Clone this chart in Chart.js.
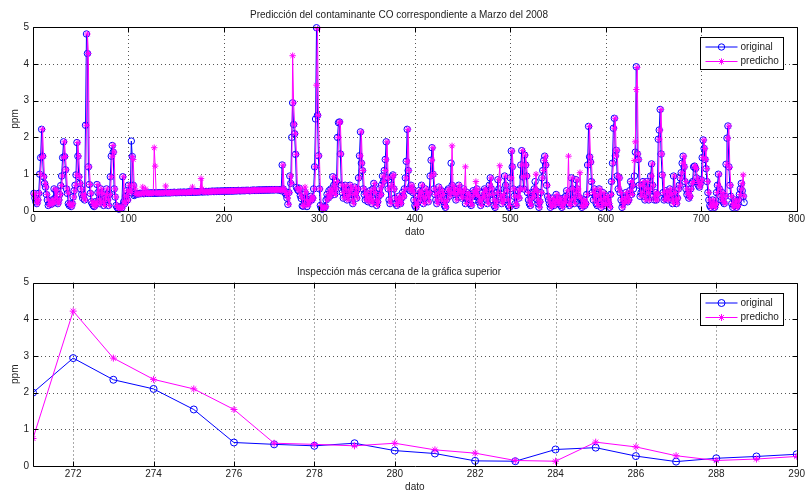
<!DOCTYPE html>
<html>
<head>
<meta charset="utf-8">
<title>Predicción del contaminante CO - Marzo 2008</title>
<script src="https://cdn.jsdelivr.net/npm/chart.js"></script>
<style>
  body { margin: 0; background: #fff; overflow: hidden; }
  #fig { position: relative; width: 807px; height: 493px; }
  canvas { position: absolute; left: 0; }
  #cTop { top: 0; }
  #cZoom { top: 245px; }
</style>
</head>
<body>
<div id="fig">
  <canvas id="cTop" width="807" height="245"></canvas>
  <canvas id="cZoom" width="807" height="248"></canvas>
</div>
<script>
// CO en ppm, dato 1..745 (marzo 2008)
const original = [
  0.48,0.35,0.25,0.2,0.3,0.48,1.0,1.45,2.22,1.49, 0.93,0.75,0.65,0.45,0.3,0.15,0.2,0.25,0.18,0.3,
  0.22,0.6,0.35,0.55,0.25,0.2,0.3,0.45,0.69,0.95, 1.45,1.88,1.48,1.12,0.6,0.48,0.2,0.15,0.18,0.12,
  0.2,0.38,0.55,0.7,0.98,1.86,1.49,0.93,0.75,0.6, 0.45,0.35,0.43,0.3,2.33,4.81,4.28,1.2,0.72,0.48,
  0.25,0.2,0.15,0.12,0.25,0.18,0.72,0.5,0.3,0.2, 0.6,0.48,0.25,0.15,0.35,0.45,0.6,0.3,0.15,0.45,
  0.93,1.49,1.78,1.6,0.6,0.38,0.15,0.1,0.08,0.05, 0.1,0.12,0.08,0.93,0.25,0.2,0.4,0.55,0.3,0.7,
  0.55,0.5,1.9,1.48,0.7,0.42,0.45,0.47,0.48,0.46, 0.47,0.48,0.47,0.48,0.48,0.47,0.48,0.48,0.49,0.48,
  0.48,0.49,0.48,0.49,0.49,0.48,0.49,0.49,0.49,0.48, 0.49,0.49,0.5,0.49,0.49,0.5,0.49,0.5,0.5,0.49,
  0.5,0.5,0.49,0.5,0.5,0.5,0.5,0.51,0.5,0.5, 0.5,0.51,0.5,0.51,0.51,0.5,0.51,0.51,0.51,0.5,
  0.51,0.51,0.51,0.52,0.51,0.51,0.52,0.51,0.52,0.52, 0.51,0.52,0.52,0.52,0.52,0.53,0.52,0.52,0.53,0.52,
  0.53,0.53,0.52,0.53,0.53,0.53,0.53,0.54,0.53,0.53, 0.54,0.53,0.54,0.54,0.53,0.54,0.54,0.54,0.54,0.54,
  0.54,0.55,0.54,0.54,0.55,0.54,0.55,0.55,0.54,0.55, 0.55,0.55,0.55,0.55,0.56,0.55,0.55,0.55,0.56,0.55,
  0.56,0.55,0.56,0.56,0.56,0.56,0.55,0.56,0.56,0.56, 0.57,0.56,0.56,0.56,0.57,0.56,0.57,0.57,0.56,0.57,
  0.57,0.57,0.57,0.57,0.58,0.57,0.57,0.58,0.57,0.58, 0.58,0.57,0.58,0.58,0.58,0.58,0.57,0.58,0.58,0.55,
  1.25,0.6,0.55,0.5,0.45,0.35,0.18,0.5,0.95,0.75, 2.0,2.94,2.35,2.1,1.54,0.64,0.59,0.55,0.62,0.42,
  0.34,0.14,0.13,0.45,0.5,0.27,0.12,0.21,0.26,0.32, 0.4,0.3,0.35,0.6,1.2,2.5,4.98,2.6,1.5,0.6,
  0.15,0.08,0.05,0.1,0.08,0.12,0.3,0.45,0.35,0.55, 0.4,0.6,0.5,0.93,0.7,0.45,0.6,0.8,2.0,2.4,
  2.42,1.55,0.7,0.5,0.35,0.6,0.7,0.4,0.3,0.55, 0.45,0.7,0.6,0.3,0.2,0.45,0.65,0.5,0.35,0.6,
  0.9,1.5,2.15,1.3,1.1,0.6,0.45,0.3,0.5,0.35, 0.25,0.4,0.55,0.3,0.2,0.6,0.75,0.5,0.3,0.15,
  0.25,0.4,0.6,0.45,0.7,0.95,0.8,1.1,1.4,1.88, 0.9,0.6,0.3,0.2,0.7,0.93,0.98,0.6,0.35,0.2,
  0.15,0.3,0.4,0.25,0.2,0.35,0.5,0.4,0.6,0.9, 1.35,2.22,1.1,0.6,0.55,0.7,0.6,0.5,0.3,0.15,
  0.1,0.2,0.4,0.55,0.3,0.5,0.7,0.4,0.2,0.35, 0.6,0.5,0.4,0.25,0.5,0.95,1.38,1.72,1.0,0.6,
  0.45,0.3,0.2,0.5,0.65,0.4,0.3,0.55,0.45,0.25, 0.15,0.1,0.3,0.55,0.6,0.4,0.5,1.3,0.7,0.5,
  0.6,0.45,0.3,0.6,0.5,0.7,0.55,0.4,0.35,0.5, 0.6,0.45,0.2,0.35,0.5,0.45,0.3,0.2,0.15,0.4,
  0.55,0.5,0.3,0.45,0.6,0.4,0.25,0.3,0.15,0.35, 0.5,0.4,0.6,0.55,0.3,0.2,0.45,0.7,0.9,0.6,
  0.45,0.3,0.15,0.1,0.25,0.5,0.85,0.6,0.4,0.3, 0.2,0.45,0.3,0.95,0.7,0.55,0.3,0.15,0.1,0.9,
  1.63,1.2,0.6,0.4,0.2,0.15,0.4,0.55,0.35,0.6, 1.25,1.64,0.93,0.6,1.52,1.25,0.95,0.5,0.3,0.2,
  0.15,0.35,0.5,0.4,0.6,0.8,0.55,0.3,0.2,0.1, 0.25,0.5,0.9,1.1,1.37,1.49,1.25,0.7,0.4,0.3,
  0.2,0.1,0.15,0.35,0.25,0.15,0.3,0.45,0.25,0.2, 0.35,0.3,0.15,0.1,0.2,0.35,0.25,0.4,0.55,0.3,
  0.2,0.15,0.3,0.9,0.6,0.35,0.2,0.5,0.85,0.6, 0.4,0.2,0.35,0.15,0.1,0.25,0.3,0.15,0.2,0.45,
  1.25,2.3,1.47,1.33,0.8,0.5,0.3,0.6,0.4,0.2, 0.15,0.45,0.6,0.3,0.1,0.2,0.5,0.35,0.2,0.15,
  0.4,0.3,0.2,0.1,0.45,0.8,1.3,2.25,2.52,1.5, 1.65,0.95,0.6,0.9,0.5,0.3,0.1,0.2,0.35,0.25,
  0.5,0.4,0.25,0.3,0.55,0.8,0.45,0.7,0.6,0.95, 1.6,3.92,1.55,1.4,0.7,0.4,0.5,0.7,0.8,0.4,
  0.3,0.6,0.8,0.5,0.3,0.6,0.95,1.28,0.7,0.4, 0.3,0.5,0.3,0.45,1.95,2.2,2.76,1.55,0.98,0.5,
  0.3,0.35,0.55,0.4,0.3,0.5,0.6,0.45,0.3,0.2, 0.95,0.5,0.3,0.2,0.35,0.6,0.7,0.9,1.04,1.3,
  1.49,1.2,0.8,0.6,0.45,0.5,0.35,0.4,0.6,0.75, 0.8,1.2,1.22,1.15,0.9,0.8,0.7,0.65,0.75,0.85,
  1.45,1.93,1.7,1.4,1.15,0.8,0.5,0.3,0.15,0.1, 0.2,0.3,0.15,0.1,0.2,0.5,0.7,1.0,0.6,0.4,
  0.3,0.5,0.25,0.2,0.4,1.27,1.98,2.31,1.2,0.7, 0.4,0.2,0.1,0.15,0.3,0.25,0.1,0.15,0.3,0.45,
  0.6,0.75,0.55,0.4,0.23
];

const predicho = [
  0.45,0.48,0.35,0.25,0.2,0.3,0.48,1.0,1.45,2.22, 1.49,0.93,0.75,0.65,0.45,0.3,0.15,0.2,0.25,0.18,
  0.3,0.22,0.6,0.35,0.55,0.25,0.2,0.3,0.45,0.69, 0.95,1.45,1.88,1.48,1.12,0.6,0.48,0.2,0.15,0.18,
  0.12,0.2,0.38,0.55,0.7,0.98,1.86,1.49,0.93,0.75, 0.6,0.45,0.35,0.43,0.3,2.33,4.81,4.28,1.2,0.72,
  0.48,0.25,0.2,0.15,0.12,0.25,0.18,0.72,0.5,0.3, 0.2,0.6,0.48,0.25,0.15,0.35,0.45,0.6,0.3,0.15,
  0.45,0.93,1.49,1.78,1.6,0.6,0.38,0.15,0.1,0.08, 0.05,0.1,0.12,0.08,0.93,0.25,0.2,0.4,0.55,0.3,
  0.7,0.55,0.5,1.48,1.4,0.7,0.6,0.45,0.47,0.48, 0.46,0.47,0.48,0.47,0.65,0.48,0.47,0.6,0.48,0.49,
  0.48,0.48,0.49,0.48,0.49,0.49,1.72,1.22,0.49,0.49, 0.48,0.49,0.49,0.5,0.49,0.49,0.5,0.49,0.68,0.5,
  0.49,0.5,0.5,0.49,0.5,0.5,0.5,0.5,0.51,0.5, 0.5,0.5,0.51,0.5,0.51,0.51,0.5,0.51,0.51,0.51,
  0.5,0.51,0.51,0.51,0.52,0.51,0.65,0.52,0.51,0.52, 0.52,0.51,0.52,0.52,0.52,0.88,0.6,0.52,0.52,0.53,
  0.52,0.53,0.53,0.52,0.53,0.53,0.53,0.53,0.54,0.53, 0.53,0.54,0.53,0.54,0.54,0.53,0.54,0.54,0.54,0.54,
  0.54,0.54,0.55,0.54,0.54,0.55,0.54,0.55,0.55,0.54, 0.55,0.55,0.55,0.55,0.55,0.56,0.55,0.55,0.55,0.56,
  0.55,0.56,0.55,0.56,0.56,0.56,0.56,0.55,0.56,0.56, 0.56,0.57,0.56,0.56,0.56,0.57,0.56,0.57,0.57,0.56,
  0.57,0.57,0.57,0.57,0.57,0.58,0.57,0.57,0.58,0.57, 0.58,0.58,0.57,0.58,0.58,0.58,0.58,0.57,0.58,0.58,
  0.55,1.25,0.6,0.55,0.5,0.45,0.35,0.18,0.5,0.95, 0.75,4.22,2.94,2.36,2.1,1.54,0.62,0.59,0.55,0.62,
  0.44,0.35,0.15,0.13,0.65,0.52,0.28,0.15,0.19,0.26, 0.32,0.4,0.3,0.35,0.6,1.2,3.42,4.95,2.6,1.5,
  0.6,0.15,0.08,0.05,0.1,0.08,0.12,0.3,0.45,0.35, 0.55,0.4,0.6,0.5,0.93,0.7,0.45,0.6,0.8,2.0,
  2.4,2.42,1.55,0.7,0.5,0.35,0.6,0.7,0.4,0.3, 0.55,0.45,0.7,0.6,0.3,0.2,0.45,0.65,0.5,0.35,
  0.6,0.9,1.5,2.15,1.3,1.1,0.6,0.45,0.3,0.5, 0.35,0.25,0.4,0.55,0.3,0.2,0.6,0.75,0.5,0.3,
  0.15,0.25,0.4,0.6,0.45,0.7,0.95,0.8,1.1,1.4, 1.88,0.9,0.6,0.3,0.2,0.7,0.93,0.98,0.6,0.35,
  0.2,0.15,0.3,0.4,0.25,0.2,0.35,0.5,0.4,0.6, 0.9,1.35,2.22,1.1,0.6,0.55,0.7,0.6,0.5,0.3,
  0.15,0.1,0.2,0.4,0.55,0.3,0.5,0.7,0.4,0.2, 0.35,0.6,0.5,0.4,0.25,0.5,0.95,1.38,1.72,1.0,
  0.6,0.45,0.3,0.2,0.5,0.65,0.4,0.3,0.55,0.45, 0.25,0.15,0.1,0.3,0.55,0.6,0.4,0.5,1.77,0.7,
  0.5,0.6,0.45,0.3,0.6,0.5,0.7,0.55,0.4,0.35, 0.5,0.6,1.2,0.2,0.35,0.5,0.45,0.3,0.2,0.15,
  0.4,0.55,0.5,0.8,0.45,0.6,0.4,0.25,0.3,0.15, 0.35,0.5,0.4,0.6,0.55,0.3,0.2,0.45,0.7,0.9,
  0.6,0.45,0.3,0.15,0.1,0.25,0.5,0.85,1.23,0.4, 0.3,0.2,0.45,0.3,0.95,0.7,0.55,0.3,0.15,0.1,
  0.9,1.63,1.2,0.6,0.4,0.2,0.15,0.4,0.55,0.35, 0.6,1.25,1.64,0.93,0.6,1.52,1.25,0.95,0.5,0.3,
  0.2,0.15,0.35,0.5,0.4,0.6,1.0,0.55,0.3,0.2, 0.1,0.25,0.5,0.9,1.1,1.37,1.49,1.25,0.7,0.4,
  0.3,0.2,0.1,0.15,0.35,0.25,0.15,0.3,0.45,0.25, 0.2,0.35,0.3,0.15,0.1,0.2,0.35,0.25,0.4,0.55,
  1.49,0.2,0.15,0.3,0.9,0.6,0.35,0.2,0.5,0.85, 0.6,0.4,1.04,0.35,0.15,0.1,0.25,0.3,0.15,0.2,
  0.45,1.25,2.3,1.47,1.33,0.8,0.5,0.3,0.6,0.4, 0.2,0.15,0.45,0.6,0.3,0.1,0.2,0.5,0.35,0.2,
  0.15,0.4,0.3,0.2,0.1,0.45,0.8,1.3,2.25,2.52, 1.5,1.65,0.95,0.6,0.9,0.5,0.3,0.1,0.2,0.35,
  0.25,0.5,0.4,0.25,0.3,0.55,0.8,0.45,0.7,1.37, 1.88,3.3,3.9,1.55,1.4,0.7,0.4,0.5,0.7,0.8,
  0.4,0.3,0.6,0.8,0.5,0.3,0.6,0.95,1.28,0.7, 0.4,0.3,0.5,0.3,0.45,1.95,2.2,2.76,1.55,0.98,
  0.5,0.3,0.35,0.55,0.4,0.3,0.5,0.6,0.45,0.3, 0.2,0.95,0.5,0.3,0.2,0.35,0.6,0.7,0.9,1.04,
  1.3,1.49,1.2,0.8,0.6,0.45,0.5,0.35,0.4,0.6, 0.75,0.8,1.2,1.22,1.15,0.9,0.8,0.7,0.65,0.75,
  0.85,1.45,1.93,1.7,1.4,1.15,0.8,0.5,0.3,0.15, 0.1,0.2,0.3,0.15,0.1,0.2,0.5,0.7,1.0,0.6,
  0.4,0.3,0.5,0.25,0.2,0.4,1.27,1.98,2.31,1.18, 0.7,0.4,0.2,0.1,0.15,0.3,0.25,0.1,0.15,0.3,
  0.45,0.6,0.75,0.98,0.4
];

// ejes
const ticksTopX = [0, 100, 200, 300, 400, 500, 600, 700, 800];
const ticksZoomX = [272, 274, 276, 278, 280, 282, 284, 286, 288, 290];
const ticksY = [0, 1, 2, 3, 4, 5];
const zoomDesde = 271, zoomHasta = 290;

const AZUL = '#0000ff', MAGENTA = '#ff00ff', TEXTO = '#222';
const FUENTE = "'Liberation Sans', Arial, sans-serif";
Chart.defaults.font.family = FUENTE;
Chart.defaults.font.size = 10;
Chart.defaults.color = TEXTO;

const aPuntos = (vals, x0) => vals.map((v, i) => ({ x: x0 + i, y: v }));

function serie(label, pts, color, estilo, r) {
  return {
    label, data: pts,
    borderColor: color, borderWidth: 1,
    pointStyle: estilo, pointRadius: r,
    pointBorderColor: color, pointBackgroundColor: 'rgba(0,0,0,0)',
    pointBorderWidth: 1, tension: 0
  };
}

// cuadricula punteada, caja y marcas hacia dentro, leyenda tipo matlab
function marcoMatlab(radio) {
  return {
    id: 'marcoMatlab',
    beforeDatasetsDraw(chart) {
      const { ctx, chartArea: a, scales: { x, y } } = chart;
      ctx.save();
      ctx.strokeStyle = '#555';
      ctx.lineWidth = 1;
      ctx.setLineDash([1, 3]);
      x.ticks.forEach(t => {
        const p = Math.round(x.getPixelForValue(t.value)) + 0.5;
        if (p < a.left + 2 || p > a.right - 2) return;
        ctx.beginPath(); ctx.moveTo(p, a.top); ctx.lineTo(p, a.bottom); ctx.stroke();
      });
      y.ticks.forEach(t => {
        const p = Math.round(y.getPixelForValue(t.value)) + 0.5;
        if (p < a.top + 2 || p > a.bottom - 2) return;
        ctx.beginPath(); ctx.moveTo(a.left, p); ctx.lineTo(a.right, p); ctx.stroke();
      });
      ctx.restore();
    },
    afterDraw(chart) {
      const { ctx, chartArea: a, scales: { x, y } } = chart;
      const L = Math.round(a.left) + 0.5, R = Math.round(a.right) + 0.5;
      const T = Math.round(a.top) + 0.5, B = Math.round(a.bottom) + 0.5;
      ctx.save();
      ctx.strokeStyle = '#000';
      ctx.lineWidth = 1;
      ctx.beginPath();
      ctx.rect(L, T, R - L, B - T);
      x.ticks.forEach(t => {
        const p = Math.round(x.getPixelForValue(t.value)) + 0.5;
        ctx.moveTo(p, B); ctx.lineTo(p, B - 5);
        ctx.moveTo(p, T); ctx.lineTo(p, T + 5);
      });
      y.ticks.forEach(t => {
        const p = Math.round(y.getPixelForValue(t.value)) + 0.5;
        ctx.moveTo(L, p); ctx.lineTo(L + 5, p);
        ctx.moveTo(R, p); ctx.lineTo(R - 5, p);
      });
      ctx.stroke();

      // leyenda
      const w = 83, h = 32;
      const lx = Math.round(a.right - 14 - w) + 0.5, ly = Math.round(a.top + 10) + 0.5;
      ctx.fillStyle = '#fff';
      ctx.fillRect(lx, ly, w, h);
      ctx.strokeRect(lx, ly, w, h);
      chart.data.datasets.slice().reverse().forEach((ds, i) => {
        const yy = ly + 9.5 + i * 14.5;
        const mx = lx + 21;
        ctx.strokeStyle = ds.borderColor;
        ctx.beginPath();
        ctx.moveTo(lx + 5, yy); ctx.lineTo(lx + 37, yy);
        if (ds.pointStyle === 'circle') {
          ctx.moveTo(mx + radio, yy);
          ctx.arc(mx, yy, radio, 0, Math.PI * 2);
        } else {
          for (let k = 0; k < 4; k++) {
            const ang = k * Math.PI / 4;
            const dx = Math.cos(ang) * radio, dy = Math.sin(ang) * radio;
            ctx.moveTo(mx - dx, yy - dy); ctx.lineTo(mx + dx, yy + dy);
          }
        }
        ctx.stroke();
        ctx.fillStyle = TEXTO;
        ctx.font = '10px ' + FUENTE;
        ctx.textBaseline = 'middle';
        ctx.textAlign = 'left';
        ctx.fillText(ds.label, lx + 40, yy);
      });
      ctx.restore();
    }
  };
}

function grafica(id, cfg) {
  return new Chart(document.getElementById(id), {
    type: 'line',
    data: {
      datasets: [
        // predicho se dibuja encima
        serie('predicho', cfg.pred, MAGENTA, 'star', cfg.r),
        serie('original', cfg.orig, AZUL, 'circle', cfg.r)
      ]
    },
    options: {
      responsive: false,
      animation: false,
      devicePixelRatio: 1,
      events: [],
      clip: cfg.clip,
      layout: { padding: { left: 0, right: 9, top: 0, bottom: 0 } },
      plugins: {
        legend: { display: false },
        tooltip: { enabled: false },
        title: {
          display: true, text: cfg.titulo, color: TEXTO,
          font: { size: 10, weight: 'normal' },
          padding: cfg.padTitulo
        }
      },
      scales: {
        x: {
          type: 'linear', min: cfg.xmin, max: cfg.xmax,
          afterBuildTicks: s => { s.ticks = cfg.ticksX.map(v => ({ value: v })); },
          afterFit: s => { s.height = cfg.altoX; },
          grid: { display: false, drawTicks: false }, border: { display: false },
          ticks: { autoSkip: false, maxRotation: 0, padding: 2, color: TEXTO },
          title: { display: true, text: 'dato', color: TEXTO, padding: { top: 0, bottom: cfg.padDato } }
        },
        y: {
          type: 'linear', min: 0, max: 5,
          afterBuildTicks: s => { s.ticks = ticksY.map(v => ({ value: v })); },
          afterFit: s => { s.width = 33; },
          grid: { display: false, drawTicks: false }, border: { display: false },
          ticks: { padding: 4, color: TEXTO },
          title: { display: true, text: 'ppm', color: TEXTO, padding: { top: 9, bottom: 0 } }
        }
      }
    },
    plugins: [marcoMatlab(cfg.r)]
  });
}

grafica('cTop', {
  titulo: 'Predicción del contaminante CO correspondiente a Marzo del 2008',
  orig: aPuntos(original, 1), pred: aPuntos(predicho, 1),
  xmin: 0, xmax: 800, ticksX: ticksTopX,
  r: 3.2, clip: false,
  padTitulo: { top: 9, bottom: 6 }, altoX: 34, padDato: 7
});

grafica('cZoom', {
  titulo: 'Inspección más cercana de la gráfica superior',
  orig: aPuntos(original.slice(zoomDesde - 1, zoomHasta), zoomDesde),
  pred: aPuntos(predicho.slice(zoomDesde - 1, zoomHasta), zoomDesde),
  xmin: zoomDesde, xmax: zoomHasta, ticksX: ticksZoomX,
  r: 3.5, clip: 0,
  padTitulo: { top: 21, bottom: 4.5 }, altoX: 27, padDato: 0
});
</script>
</body>
</html>
